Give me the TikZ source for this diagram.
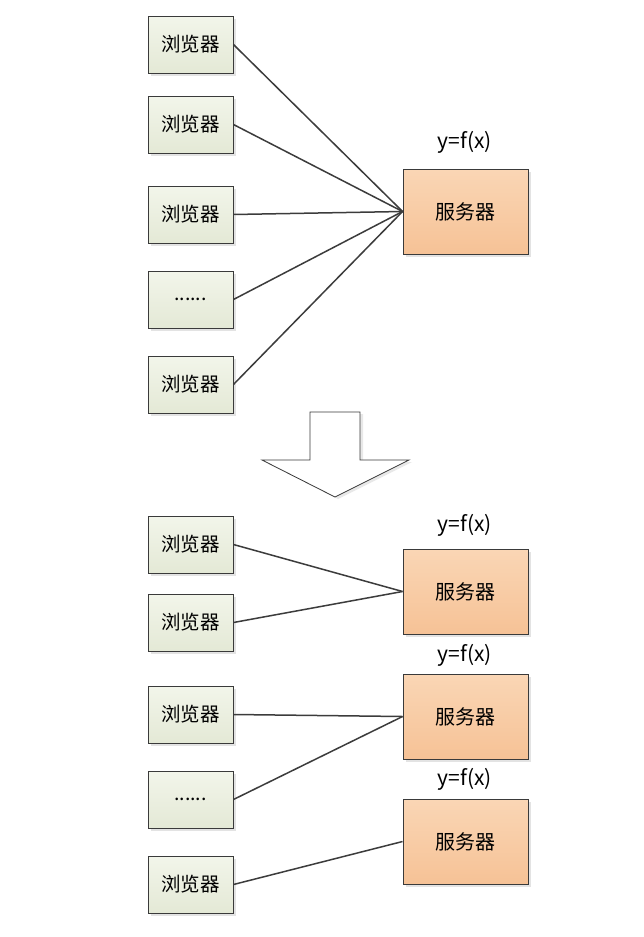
\documentclass[tikz,border=0pt]{standalone}
\usepackage{fontspec}
\setmainfont{Noto Sans CJK SC}
\usetikzlibrary{shadows}
\definecolor{bframe}{HTML}{3A3A3A}
\definecolor{btop}{HTML}{F2F5EA}
\definecolor{bbot}{HTML}{E4E9D6}
\definecolor{stop}{HTML}{FAD6B5}
\definecolor{sbot}{HTML}{F6C296}
\definecolor{lnk}{HTML}{3C3C3C}
\tikzset{
  browser/.style={draw=bframe, line width=0.9pt, top color=btop, bottom color=bbot,
    minimum width=85pt, minimum height=57pt, inner sep=0pt,
    font=\fontsize{19.5}{22}\selectfont,
    drop shadow={opacity=0.22, shadow xshift=2.5pt, shadow yshift=-2.5pt}},
  server/.style={draw=bframe, line width=0.9pt, top color=stop, bottom color=sbot,
    minimum width=125pt, minimum height=85pt, inner sep=0pt,
    font=\fontsize{20}{22}\selectfont,
    drop shadow={opacity=0.22, shadow xshift=2.5pt, shadow yshift=-2.5pt}},
  flabel/.style={font=\fontsize{21}{24}\selectfont, inner sep=0pt},
  link/.style={draw=lnk, line width=1.5pt},
}
\begin{document}
\begin{tikzpicture}[x=1pt,y=-1pt]
\useasboundingbox[fill=white] (0,0) rectangle (644,937);
% top part
\node[browser] (a1) at (190.5,44.5) {浏览器};
\node[browser] (a2) at (190.5,124.5) {浏览器};
\node[browser] (a3) at (190.5,214.5) {浏览器};
\node[browser] (a4) at (190.5,299.5) {......};
\node[browser] (a5) at (190.5,384.5) {浏览器};
\node[server] (s0) at (465.5,211.5) {服务器};
\node[flabel] (f0) at (465,142) {y=f(x)};
\foreach \n in {a1,a2,a3,a4,a5} \draw[link] (\n.east) -- (s0.west);
% arrow
\draw[draw=bframe, line width=0.8pt, fill=white,
  drop shadow={opacity=0.18, shadow xshift=3pt, shadow yshift=-2pt}]
  (310,412) -- (360,412) -- (360,460) -- (409,460) -- (335,497) -- (262,460) -- (310,460) -- cycle;
% bottom part
\node[browser] (b1) at (190.5,544.5) {浏览器};
\node[browser] (b2) at (190.5,622.5) {浏览器};
\node[browser] (b3) at (190.5,714.5) {浏览器};
\node[browser] (b4) at (190.5,799.5) {......};
\node[browser] (b5) at (190.5,884.5) {浏览器};
\node[server] (s1) at (465.5,591.5) {服务器};
\node[server] (s2) at (465.5,716.5) {服务器};
\node[server] (s3) at (465.5,841.5) {服务器};
\node[flabel] (f1) at (465,525) {y=f(x)};
\node[flabel] (f2) at (465,655) {y=f(x)};
\node[flabel] (f3) at (465,779) {y=f(x)};
\draw[link] (b1.east) -- (s1.west);
\draw[link] (b2.east) -- (s1.west);
\draw[link] (b3.east) -- (s2.west);
\draw[link] (b4.east) -- (s2.west);
\draw[link] (b5.east) -- (s3.west);
\end{tikzpicture}
\end{document}
